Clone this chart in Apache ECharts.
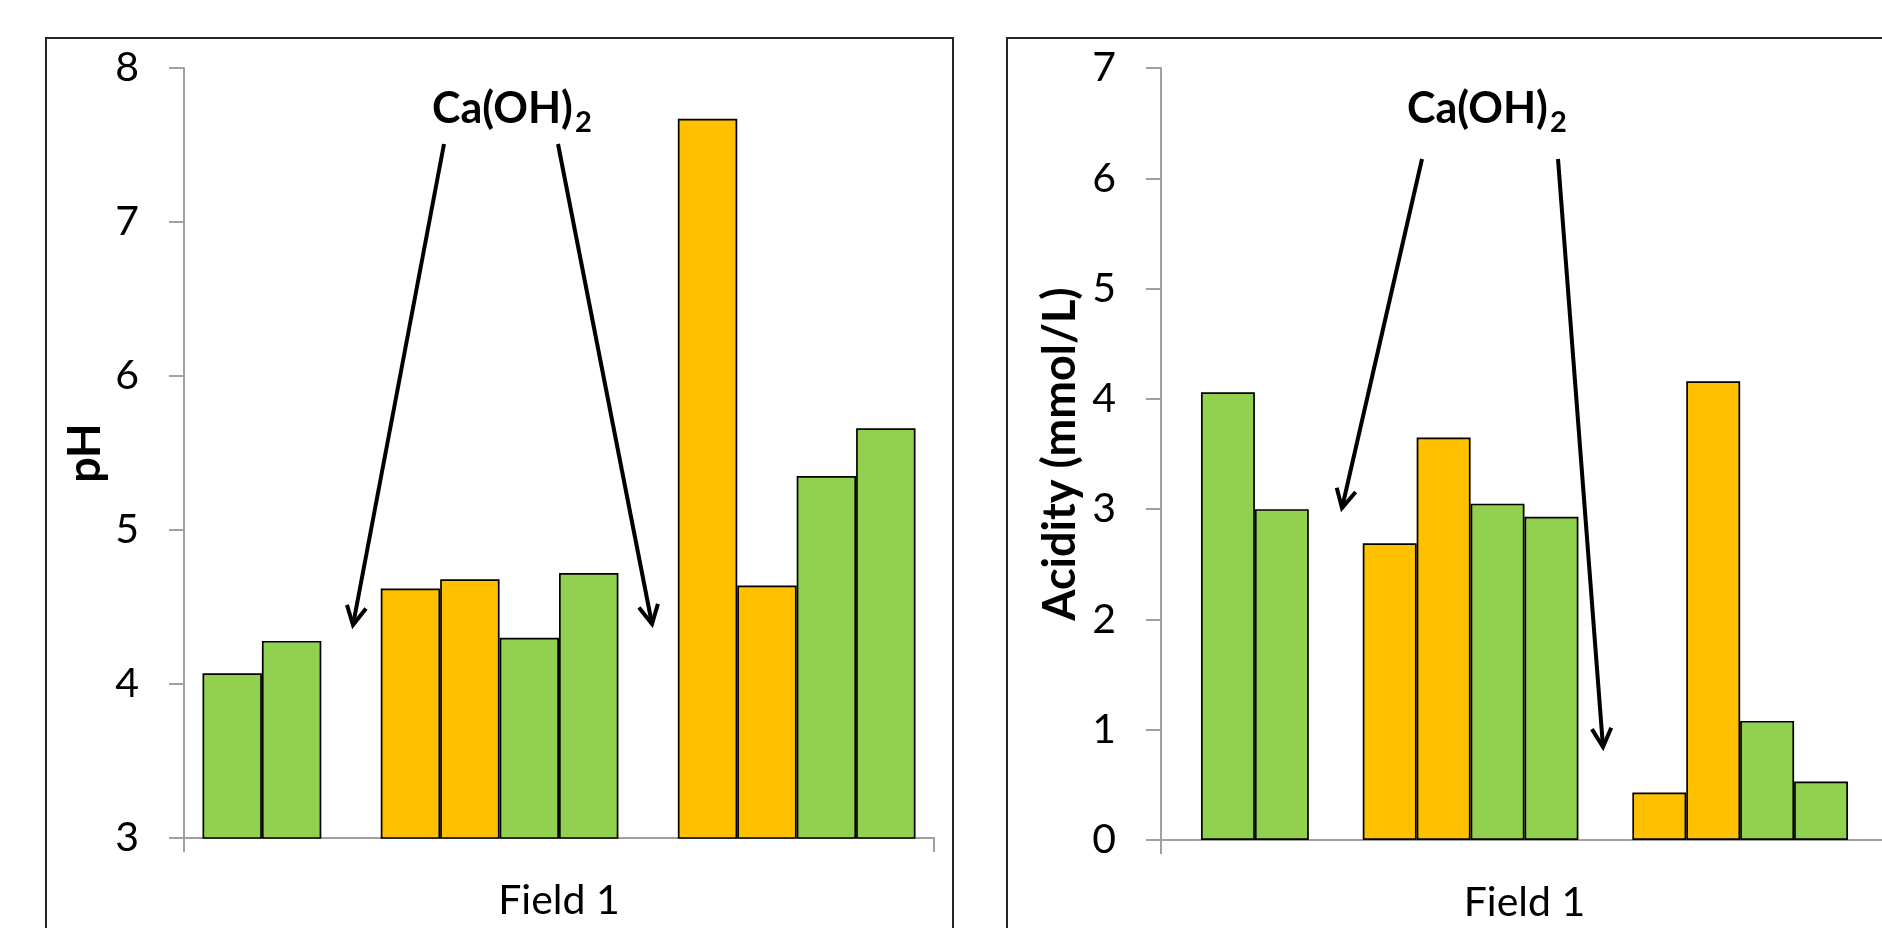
<!DOCTYPE html>
<html>
<head>
<meta charset="utf-8">
<script src="https://cdn.jsdelivr.net/npm/echarts@6/dist/echarts.min.js"></script>
<style>
html,body{margin:0;padding:0;background:#fff;}
#chart{width:1882px;height:928px;}
</style>
</head>
<body>
<div id="chart"></div>
<script>
// ---- data ----
const categories = ['Field 1'];
// one value per bar slot (null = empty slot between groups)
const phValues = [4.07, 4.28, null, 4.62, 4.68, 4.30, 4.72, null, 7.67, 4.64, 5.35, 5.66];
const acidityValues = [4.06, 3.00, null, 2.69, 3.65, 3.05, 2.93, null, 0.43, 4.16, 1.08, 0.53];
const treatment = ['Control', 'Control', null, 'Ca(OH)2', 'Ca(OH)2', 'Control', 'Control', null, 'Ca(OH)2', 'Ca(OH)2', 'Control', 'Control'];
const phRange = [3, 8];
const acidityRange = [0, 7];
const phTitle = 'pH';
const acidityTitle = 'Acidity (mmol/L)';
const annotationText = 'Ca(OH)';
const annotationSub = '2';

// ---- styles ----
const GREEN = '#92D050';
const ORANGE = '#FFC000';
const AXIS = '#a0a0a0';
const FONT = 'Lato';

function makeSeries(values, axisIdx, catGap) {
  return values.map((v, i) => ({
    type: 'bar',
    name: (treatment[i] || 'gap') + ' ' + i,
    xAxisIndex: axisIdx,
    yAxisIndex: axisIdx,
    data: [v == null ? '-' : v],
    barGap: '0%',
    barCategoryGap: catGap,
    itemStyle: {
      color: treatment[i] === 'Ca(OH)2' ? ORANGE : GREEN,
      borderColor: '#000',
      borderWidth: 1.7
    },
    emphasis: { disabled: true }
  }));
}

function xAxis(gridIndex) {
  return {
    type: 'category',
    gridIndex: gridIndex,
    data: categories,
    boundaryGap: true,
    axisLine: { show: true, lineStyle: { color: AXIS, width: 2 } },
    axisTick: { show: true, length: 14, lineStyle: { color: AXIS, width: 2 } },
    axisLabel: { fontFamily: FONT, fontSize: 41, color: '#000', margin: 42, lineHeight: 41 }
  };
}

function yAxis(gridIndex, range, title, gap) {
  return {
    type: 'value',
    gridIndex: gridIndex,
    min: range[0],
    max: range[1],
    interval: 1,
    splitLine: { show: false },
    axisLine: { show: true, lineStyle: { color: AXIS, width: 2 } },
    axisTick: { show: true, length: 15, lineStyle: { color: AXIS, width: 2 } },
    axisLabel: { fontFamily: FONT, fontSize: 41, color: '#000', margin: 45 },
    name: title,
    nameLocation: 'middle',
    nameRotate: 90,
    nameGap: gap,
    nameTextStyle: { fontFamily: FONT, fontSize: 45, fontWeight: 'bold', color: '#000' }
  };
}

function arrow(x1, y1, x2, y2) {
  const ang = Math.atan2(y2 - y1, x2 - x1);
  const L = 21, a = 0.48;
  const p1 = [x2 - L * Math.cos(ang - a), y2 - L * Math.sin(ang - a)];
  const p2 = [x2 - L * Math.cos(ang + a), y2 - L * Math.sin(ang + a)];
  return [
    { type: 'line', shape: { x1: x1, y1: y1, x2: x2, y2: y2 }, style: { stroke: '#000', lineWidth: 4 }, z: 100 },
    { type: 'polyline', shape: { points: [p1, [x2, y2], p2] }, style: { stroke: '#000', lineWidth: 4, fill: null, lineJoin: 'miter' }, z: 100 }
  ];
}

const measureCtx = document.createElement('canvas').getContext('2d');
function textWidth(t, size) {
  measureCtx.font = 'bold ' + size + 'px ' + FONT;
  return measureCtx.measureText(t).width;
}

function label(x) {
  const w = textWidth(annotationText, 43);
  return [
    { type: 'text', x: x, y: 109, style: { text: annotationText, fontSize: 43, fontWeight: 'bold', fontFamily: FONT, fill: '#000', align: 'left', verticalAlign: 'middle' }, z: 100 },
    { type: 'text', x: x + w + 2, y: 123, style: { text: annotationSub, fontSize: 29, fontWeight: 'bold', fontFamily: FONT, fill: '#000', align: 'left', verticalAlign: 'middle' }, z: 100 }
  ];
}

const chart = echarts.init(document.getElementById('chart'), null, { renderer: 'canvas' });
chart.setOption({
  animation: false,
  backgroundColor: '#fff',
  grid: [
    { left: 184, top: 68, width: 750, height: 770, outerBoundsMode: 'none' },
    { left: 1161, top: 68, width: 727, height: 772, outerBoundsMode: 'none' }
  ],
  xAxis: [xAxis(0), xAxis(1)],
  yAxis: [yAxis(0, phRange, phTitle, 76), yAxis(1, acidityRange, acidityTitle, 78)],
  series: makeSeries(phValues, 0, '4.93%').concat(makeSeries(acidityValues, 1, '11%')),
  graphic: [
    { type: 'rect', shape: { x: 46, y: 38, width: 907, height: 960 }, style: { stroke: '#262626', lineWidth: 2, fill: null }, z: 0 },
    { type: 'rect', shape: { x: 1007, y: 38, width: 960, height: 960 }, style: { stroke: '#262626', lineWidth: 2, fill: null }, z: 0 }
  ].concat(label(432), label(1407),
    arrow(444, 144, 353, 625),
    arrow(558, 144, 652, 624),
    arrow(1422, 159, 1342, 508),
    arrow(1558, 159, 1603, 747))
});
</script>
</body>
</html>
